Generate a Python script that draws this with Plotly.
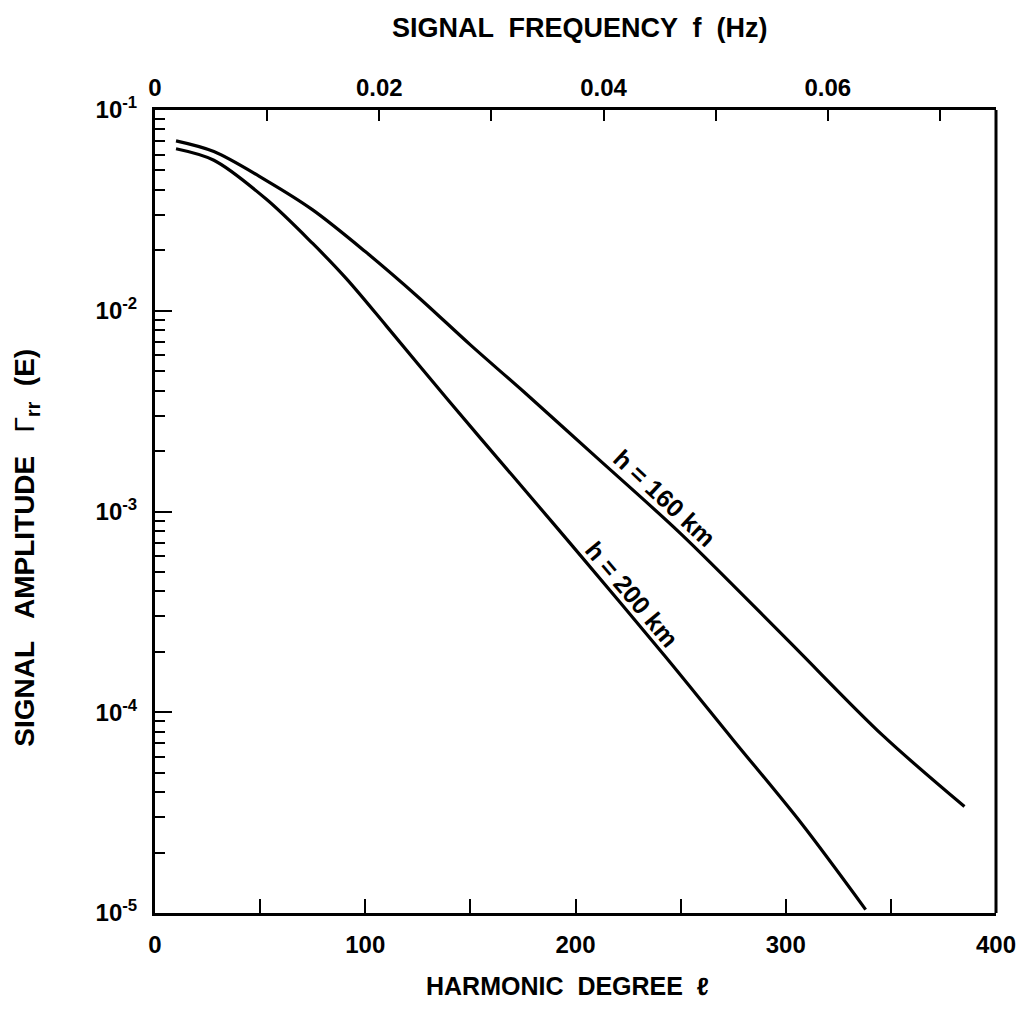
import plotly.graph_objects as go

# h = 160 km curve (harmonic degree, amplitude in E)
deg_160 = [10, 28, 53, 75, 100, 125, 150, 175, 210, 250, 300, 346, 385]
amp_160 = [7.02e-2, 6.21e-2, 4.45e-2, 3.18e-2, 1.972e-2, 1.175e-2, 6.76e-3, 3.98e-3,
           1.86e-3, 7.76e-4, 2.34e-4, 7.69e-5, 3.39e-5]

# h = 200 km curve
deg_200 = [10, 28, 53, 75, 91, 110, 139, 170, 198, 243, 275, 307.5, 338]
amp_200 = [6.41e-2, 5.62e-2, 3.59e-2, 2.163e-2, 1.445e-2, 8.41e-3, 3.63e-3,
           1.51e-3, 6.84e-4, 1.88e-4, 7.28e-5, 2.79e-5, 1.04e-5]

x_ticks = [0, 100, 200, 300, 400]
x_minor = [50, 150, 250, 350]
y_ticks = [1e-5, 1e-4, 1e-3, 1e-2, 1e-1]
y_ticktext = ["10<sup>-5</sup>", "10<sup>-4</sup>", "10<sup>-3</sup>", "10<sup>-2</sup>", "10<sup>-1</sup>"]
f_ticks = [0, 0.02, 0.04, 0.06]
f_ticktext = ["0", "0.02", "0.04", "0.06"]
f_minor = [0.01, 0.03, 0.05, 0.07]

y_minor = [m * d for d in [1e-5, 1e-4, 1e-3, 1e-2] for m in range(2, 10)]

FONT = "Liberation Sans"
TF = dict(size=24, family=FONT, weight="bold", color="black")

fig = go.Figure()
fig.add_trace(go.Scatter(x=deg_160, y=amp_160, mode="lines",
                         line=dict(color="black", width=3.2, shape="spline", smoothing=0.9),
                         showlegend=False, hoverinfo="skip"))
fig.add_trace(go.Scatter(x=deg_200, y=amp_200, mode="lines",
                         line=dict(color="black", width=3.2, shape="spline", smoothing=0.9),
                         showlegend=False, hoverinfo="skip"))
# invisible trace to activate top axis
fig.add_trace(go.Scatter(x=[0, 0.075], y=[1e-5, 1e-5], xaxis="x2", mode="lines",
                         line=dict(color="rgba(0,0,0,0)"), showlegend=False, hoverinfo="skip"))

fig.update_layout(
    width=1016, height=1019,
    margin=dict(l=155, r=20, t=110, b=106),
    paper_bgcolor="white", plot_bgcolor="white",
    font=dict(family=FONT, color="black"),
    xaxis=dict(range=[0, 400], tickmode="array", tickvals=x_ticks, automargin=False,
               ticks="inside", ticklen=14, tickwidth=2, tickcolor="black",
               minor=dict(tickmode="array", tickvals=x_minor, ticks="inside", ticklen=14,
                          tickwidth=2, tickcolor="black"),
               showline=True, linewidth=3, linecolor="black", showgrid=False, zeroline=False,
               tickfont=TF, ticklabelstandoff=8, ticklabeloverflow="allow"),
    xaxis2=dict(range=[0, 0.075], overlaying="x", side="top", anchor="y", automargin=False,
                tickmode="array", tickvals=f_ticks, ticktext=f_ticktext,
                ticks="inside", ticklen=11, tickwidth=2, tickcolor="black",
                minor=dict(tickmode="array", tickvals=f_minor, ticks="inside", ticklen=11,
                           tickwidth=2, tickcolor="black"),
                showline=True, linewidth=3, linecolor="black", showgrid=False, zeroline=False,
                tickfont=TF, ticklabelstandoff=1, ticklabeloverflow="allow"),
    yaxis=dict(type="log", range=[-5, -1], tickmode="array", tickvals=y_ticks, ticktext=y_ticktext,
               automargin=False,
               ticks="inside", ticklen=17, tickwidth=2, tickcolor="black",
               minor=dict(tickmode="array", tickvals=y_minor, ticks="inside", ticklen=10,
                          tickwidth=2, tickcolor="black"),
               showline=True, linewidth=3, linecolor="black", showgrid=False, zeroline=False,
               tickfont=TF, ticklabelstandoff=10),
    shapes=[dict(type="line", xref="paper", yref="paper", x0=1, x1=1, y0=0, y1=1,
                 line=dict(color="black", width=3))],
    annotations=[
        dict(text="<b>SIGNAL  FREQUENCY  f  (Hz)</b>", xref="paper", yref="paper", x=0.505, y=1.0,
             yshift=82, yanchor="middle", showarrow=False, font=dict(size=27, family=FONT)),
        dict(text="<b>HARMONIC  DEGREE  ℓ</b>", xref="paper", yref="paper", x=0.49, y=0,
             yshift=-73, yanchor="middle", showarrow=False, font=dict(size=25, family=FONT)),
        dict(text="<b>SIGNAL   AMPLITUDE   </b>Γ<b><sub>rr</sub>  (E)</b>", xref="paper", yref="paper",
             x=0, y=0.455, xshift=-128, xanchor="center", yanchor="middle", textangle=-90,
             showarrow=False, font=dict(size=28, family=FONT)),
        dict(text="<b>h = 160 km</b>", x=240, y=-2.96, xref="x", yref="y", textangle=43,
             xshift=5, yshift=5, showarrow=False, font=dict(size=25, family=FONT)),
        dict(text="<b>h = 200 km</b>", x=224.5, y=-3.43, xref="x", yref="y", textangle=50,
             xshift=5, yshift=4, showarrow=False, font=dict(size=25, family=FONT)),
    ],
)

fig.write_html("out.html")
